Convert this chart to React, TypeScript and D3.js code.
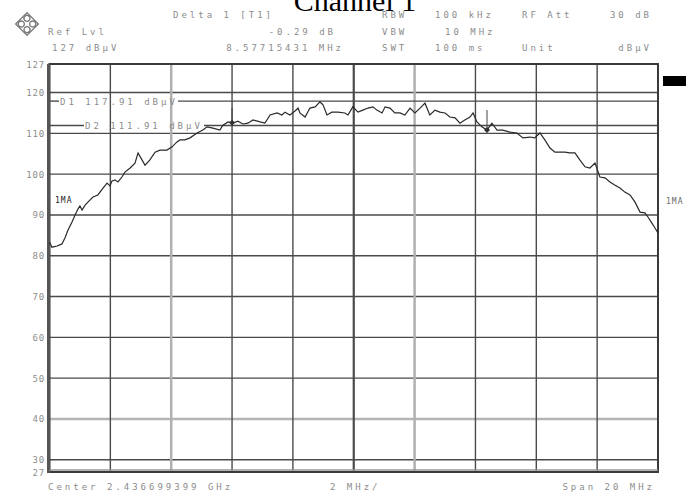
import React from "react";
import * as d3 from "d3";

// Frequency offset from center (MHz) and level (dBµV) of trace 1
const freqOffsets = [
  -10.0, -9.92, -9.75, -9.59, -9.49, -9.39, -9.26, -9.16, -9.06, -9.0, -8.93, -8.83, -8.73, -8.57, -8.41,
  -8.24, -8.11, -8.01, -7.95, -7.85, -7.75, -7.62, -7.52, -7.35, -7.19, -7.09, -6.96, -6.86, -6.7, -6.53,
  -6.37, -6.14, -5.97, -5.81, -5.71, -5.55, -5.38, -5.15, -4.96, -4.82, -4.63, -4.4, -4.3, -4.13, -3.97,
  -3.81, -3.64, -3.48, -3.31, -3.08, -2.92, -2.75, -2.52, -2.36, -2.26, -2.1, -1.93, -1.83, -1.77, -1.6,
  -1.44, -1.27, -1.11, -1.01, -0.88, -0.72, -0.52, -0.29, -0.19, -0.03, 0.14, 0.3, 0.47, 0.63, 0.76,
  0.93, 1.03, 1.19, 1.35, 1.52, 1.68, 1.85, 2.01, 2.18, 2.34, 2.5, 2.67, 2.83, 3.0, 3.16,
  3.33, 3.49, 3.65, 3.82, 3.92, 4.05, 4.21, 4.38, 4.54, 4.71, 4.9, 5.13, 5.36, 5.56, 5.79,
  5.95, 6.12, 6.28, 6.45, 6.61, 6.77, 6.94, 7.1, 7.27, 7.43, 7.6, 7.76, 7.93, 8.09, 8.26,
  8.42, 8.59, 8.75, 8.91, 9.08, 9.24, 9.41, 9.57, 9.67, 9.8, 9.9, 10.0,
];
const levels = [
  83.4, 82.1, 82.4, 82.9, 84.4, 86.3, 88.3, 90.0, 91.5, 92.2, 91.2, 92.4, 93.2, 94.4, 94.9,
  96.6, 97.8, 97.1, 98.3, 98.6, 98.1, 99.3, 100.5, 101.5, 102.7, 105.2, 103.5, 102.2, 103.5, 105.4,
  105.9, 105.9, 106.7, 107.9, 108.4, 108.4, 108.9, 110.1, 110.8, 111.6, 111.3, 110.8, 112.0, 112.8, 112.5,
  113.0, 112.3, 112.5, 113.3, 112.8, 112.5, 114.5, 115.0, 114.5, 115.2, 114.5, 115.5, 116.2, 115.0, 114.0,
  116.2, 116.5, 117.7, 117.0, 114.5, 115.2, 115.2, 115.0, 114.5, 116.5, 115.2, 115.7, 116.2, 116.5, 115.7,
  115.0, 116.5, 116.2, 115.0, 115.0, 114.5, 116.2, 115.0, 116.2, 117.4, 114.5, 115.7, 115.2, 115.0, 114.0,
  113.8, 112.5, 113.3, 114.0, 115.0, 112.8, 111.6, 110.8, 112.5, 110.8, 110.8, 110.3, 110.1, 108.9, 109.1,
  108.9, 110.1, 108.4, 106.4, 105.4, 105.4, 105.4, 105.2, 105.2, 103.5, 101.8, 101.5, 102.7, 99.3, 99.1,
  98.1, 97.3, 96.6, 95.6, 94.9, 93.2, 90.7, 90.5, 89.5, 88.0, 86.8, 85.6,
];

const yTickValues = [127, 120, 110, 100, 90, 80, 70, 60, 50, 40, 30, 27];
const yGridValues = [120, 110, 100, 90, 80, 70, 60, 50, 40, 30];
const xGridValues = [-8, -6, -4, -2, 0, 2, 4, 6, 8];
const displayLines = [
  { name: "D1", value: 117.91, label: "D1 117.91 dBµV", textStart: 60, textEnd: 178, lineStart: 49.5 },
  { name: "D2", value: 111.91, label: "D2 111.91 dBµV", textStart: 85, textEnd: 204, lineStart: 49.5 },
];
const markers = [
  { f: -4.0, v: 112.6, top: 108 },
  { f: 4.38, v: 110.8, top: 110 },
];

const headerLeft = [
  { text: "Delta 1 [T1]", x: 173, y: 18, anchor: "start" },
  { text: "Ref Lvl", x: 48, y: 35, anchor: "start" },
  { text: "-0.29 dB", x: 336, y: 35, anchor: "end" },
  { text: "127 dBµV", x: 52, y: 51, anchor: "start" },
  { text: "8.57715431 MHz", x: 344, y: 51, anchor: "end" },
  { text: "RBW", x: 382, y: 18, anchor: "start" },
  { text: "100 kHz", x: 435, y: 18, anchor: "start" },
  { text: "RF Att", x: 522, y: 18, anchor: "start" },
  { text: "30 dB", x: 652, y: 18, anchor: "end" },
  { text: "VBW", x: 382, y: 35, anchor: "start" },
  { text: "10 MHz", x: 445, y: 35, anchor: "start" },
  { text: "SWT", x: 382, y: 51, anchor: "start" },
  { text: "100 ms", x: 435, y: 51, anchor: "start" },
  { text: "Unit", x: 522, y: 51, anchor: "start" },
  { text: "dBµV", x: 652, y: 51, anchor: "end" },
  { text: "Center 2.436699399 GHz", x: 48, y: 490, anchor: "start" },
  { text: "2 MHz/", x: 330, y: 490, anchor: "start" },
  { text: "Span 20 MHz", x: 655, y: 490, anchor: "end" },
];

export default function App() {
  const W = 693;
  const H = 493;
  const left = 49.5;
  const right = 658;
  const top = 64;
  const bottom = 472;
  const x = d3.scaleLinear().domain([-10, 10]).range([left, right]);
  const y = d3.scaleLinear().domain([27, 127]).range([bottom, top]);
  const pts: [number, number][] = freqOffsets.map((f, i) => [f, levels[i]]);
  const line = d3
    .line<[number, number]>()
    .x((d) => x(d[0]))
    .y((d) => y(d[1]));

  const mono = "'DejaVu Sans Mono', monospace";
  const gray = "#8c8c8c";
  const gridDark = "#4a4a4a";

  return (
    <svg
      width={W}
      height={H}
      style={{ position: "absolute", left: 0, top: 0, background: "#fff" }}
    >
      <rect x={0} y={0} width={W} height={H} fill="#fff" />
      {/* title */}
      <text x={355} y={11} textAnchor="middle" fontFamily="'Liberation Serif', 'Times New Roman', serif" fontSize={30} fill="#000">
        Channel 1
      </text>
      {/* logo */}
      <g transform="translate(27,24) rotate(45)" stroke="#777" strokeWidth={1.3} fill="none">
        <rect x={-8} y={-8} width={16} height={16} />
        <circle cx={-4} cy={-4} r={3} />
        <circle cx={4} cy={-4} r={3} />
        <circle cx={-4} cy={4} r={3} />
        <circle cx={4} cy={4} r={3} />
      </g>
      {/* header and footer text */}
      {headerLeft.map((t, i) => (
        <text
          key={i}
          x={t.x}
          y={t.y}
          textAnchor={t.anchor as any}
          fontFamily={mono}
          fontSize={9}
          letterSpacing={3}
          fill={gray}
          style={{ whiteSpace: "pre" }}
        >
          {t.text}
        </text>
      ))}
      {/* horizontal grid */}
      {yGridValues.map((v) => (
        <line
          key={"h" + v}
          x1={left}
          x2={right}
          y1={y(v)}
          y2={y(v)}
          stroke={v === 40 ? "#b5b5b5" : gridDark}
          strokeWidth={v === 40 ? 2.5 : 1.4}
        />
      ))}
      {/* vertical grid */}
      {xGridValues.map((f) => (
        <line
          key={"v" + f}
          x1={x(f)}
          x2={x(f)}
          y1={top}
          y2={bottom}
          stroke={f === -6 || f === 2 ? "#b0b0b0" : gridDark}
          strokeWidth={f === 0 ? 2.2 : f === -6 || f === 2 ? 2.5 : 1.4}
        />
      ))}
      {/* display lines */}
      {displayLines.map((d) => (
        <g key={d.name}>
          <line x1={d.lineStart} x2={d.textStart - 1} y1={y(d.value)} y2={y(d.value)} stroke={gridDark} strokeWidth={1.4} />
          <line x1={d.textEnd} x2={right} y1={y(d.value)} y2={y(d.value)} stroke={gridDark} strokeWidth={1.4} />
          <text
            x={d.textStart}
            y={y(d.value) + 3.5}
            fontFamily={mono}
            fontSize={9}
            letterSpacing={3}
            fill={gray}
          >
            {d.label}
          </text>
        </g>
      ))}
      {/* frame */}
      <rect x={left} y={top} width={right - left} height={bottom - top} fill="none" stroke="#3a3a3a" strokeWidth={2} />
      <line x1={left - 1} x2={left - 1} y1={top} y2={bottom + 1} stroke="#555" strokeWidth={3} />
      <line x1={left} x2={right} y1={bottom - 2} y2={bottom - 2} stroke="#999" strokeWidth={1.5} />
      {/* y tick labels */}
      {yTickValues.map((v) => (
        <text
          key={"t" + v}
          x={45}
          y={y(v) + 3.5}
          textAnchor="end"
          fontFamily={mono}
          fontSize={9}
          letterSpacing={0.8}
          fill={gray}
        >
          {v}
        </text>
      ))}
      {/* trace */}
      <path d={line(pts) || ""} fill="none" stroke="#2a2a2a" strokeWidth={1.2} />
      {/* markers */}
      {markers.map((m, i) => (
        <g key={"m" + i}>
          <line x1={x(m.f)} x2={x(m.f)} y1={m.top} y2={y(m.v)} stroke="#444" strokeWidth={1} />
          <path
            d={`M${x(m.f)},${y(m.v) - 3} L${x(m.f) + 3},${y(m.v)} L${x(m.f)},${y(m.v) + 3} L${x(m.f) - 3},${y(m.v)} Z`}
            fill="#333"
          />
        </g>
      ))}
      {/* right side annotations */}
      <rect x={663} y={76} width={23} height={10} fill="#000" />
      <text x={666} y={204} fontFamily={mono} fontSize={8} letterSpacing={1} fill="#666">1MA</text>
      <text x={55} y={203} fontFamily={mono} fontSize={8} letterSpacing={1} fill="#222">1MA</text>
    </svg>
  );
}
